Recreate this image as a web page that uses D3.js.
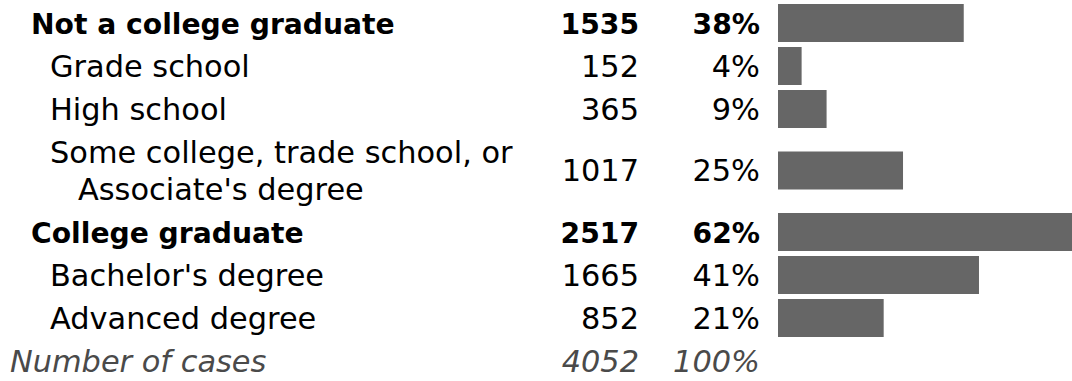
<!DOCTYPE html>
<html>
<head>
<meta charset="utf-8">
<script src="https://cdn.jsdelivr.net/npm/d3@7"></script>
<style>
  html, body { margin: 0; padding: 0; background: #fff; }
  svg { display: block; }
  text { font-family: "DejaVu Sans", Verdana, sans-serif; }
</style>
</head>
<body>
<svg id="chart" width="1072" height="381"></svg>
<script>
// Education breakdown: category labels, case counts and indent level
const categories = [
  "Not a college graduate",
  "Grade school",
  "High school",
  "Some college, trade school, or\nAssociate's degree",
  "College graduate",
  "Bachelor's degree",
  "Advanced degree"
];
const counts = [1535, 152, 365, 1017, 2517, 1665, 852];
const levels = [0, 1, 1, 1, 0, 1, 1];
const totalLabel = "Number of cases";
const totalCount = 4052;

const svg = d3.select("#chart");
const fmtPct = d3.format(".0%");

const rowH = 43, lineH = 37, top0 = 1.5;
const rows = categories.map((c, i) => ({
  lines: c.split("\n"),
  count: counts[i],
  share: counts[i] / totalCount,
  level: levels[i]
}));
let y = top0;
rows.forEach(r => { r.h = rowH + (r.lines.length - 1) * lineH; r.cy = y + r.h / 2; y += r.h; });
const totalCy = y + rowH / 2;

const sizeRegular = 30.4, sizeBold = 28.2, base = 10.8;
const fontSize = d => d.level === 0 ? sizeBold : sizeRegular;
const weight = d => d.level === 0 ? "bold" : "normal";

const labelX = [31, 50], hangX = 28;
const countX = 639, pctX = 760, barX0 = 778, barH = 38;
// bar ends follow the share on a linear scale
const x = d3.scaleLinear().domain([0, 1]).range([783.8, 783.8 + 475]);

const g = svg.selectAll("g.row").data(rows).join("g").attr("class", "row")
  .attr("transform", d => `translate(0,${d.cy})`);

g.append("text")
  .attr("font-size", fontSize)
  .attr("font-weight", weight)
  .attr("fill", "#000")
  .selectAll("tspan").data(d => d.lines.map((t, k) => ({t, k, n: d.lines.length, level: d.level})))
  .join("tspan")
  .attr("x", d => labelX[d.level] + (d.k > 0 ? hangX : 0))
  .attr("y", d => (d.k - (d.n - 1) / 2) * lineH + base)
  .text(d => d.t);

g.append("text")
  .attr("x", countX).attr("y", base)
  .attr("text-anchor", "end").attr("font-size", fontSize)
  .attr("font-weight", weight)
  .text(d => d.count);

g.append("text")
  .attr("x", pctX).attr("y", base)
  .attr("text-anchor", "end").attr("font-size", fontSize)
  .attr("font-weight", weight)
  .text(d => fmtPct(d.share));

g.append("rect")
  .attr("x", barX0).attr("y", -barH / 2)
  .attr("width", d => x(d.share) - barX0)
  .attr("height", barH)
  .attr("fill", "#666666");

// Totals row
const t = svg.append("g").attr("transform", `translate(0,${totalCy})`)
  .attr("fill", "#4a4a4a").attr("font-style", "italic").attr("font-size", sizeRegular);
t.append("text").attr("x", 10).attr("y", base).text(totalLabel);
t.append("text").attr("x", countX).attr("y", base).attr("text-anchor", "end").text(totalCount);
t.append("text").attr("x", pctX).attr("y", base).attr("text-anchor", "end").text(fmtPct(1));
</script>
</body>
</html>
